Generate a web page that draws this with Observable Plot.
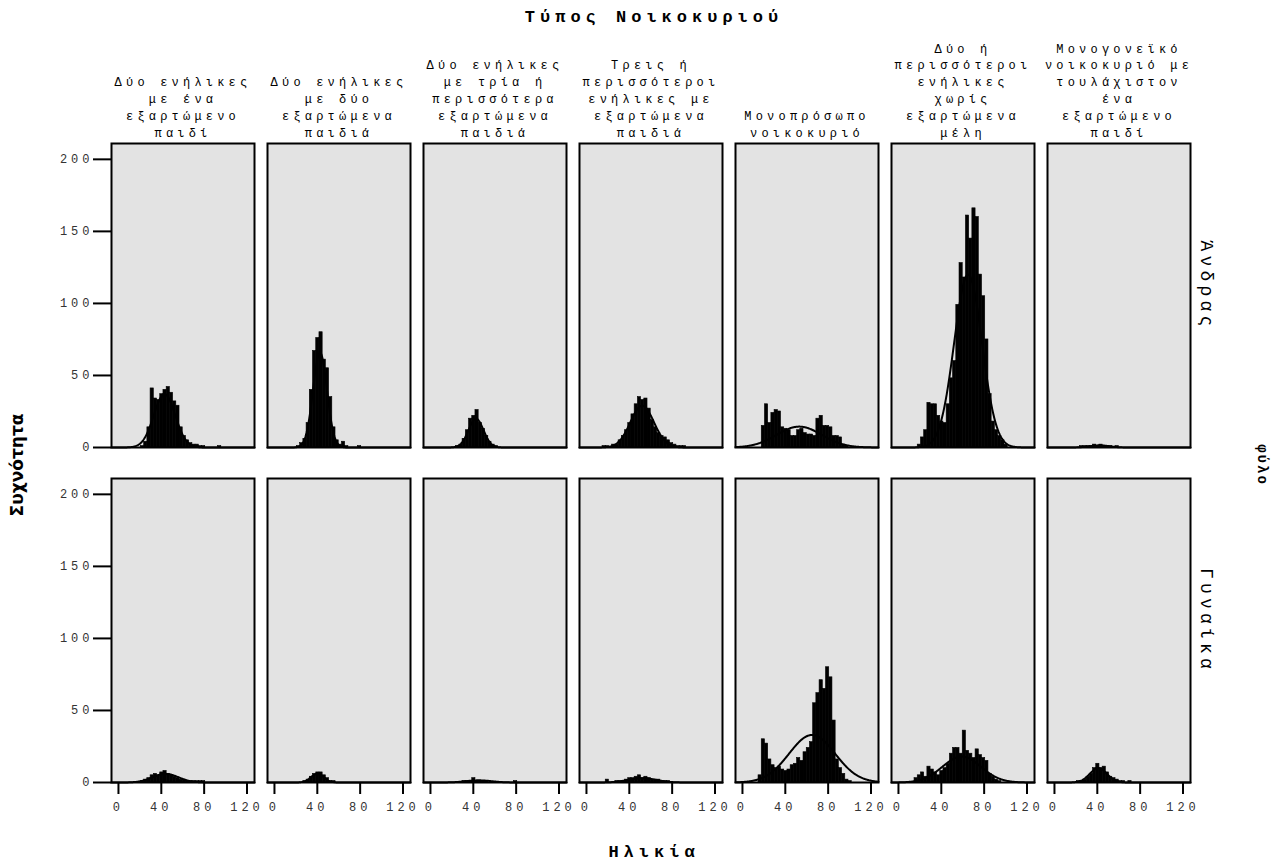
<!DOCTYPE html>
<html><head><meta charset="utf-8">
<script src="https://cdn.jsdelivr.net/npm/d3@7"></script>
<script src="https://cdn.jsdelivr.net/npm/@observablehq/plot@0.6"></script>
<style>
html,body{margin:0;padding:0;background:#fff;}
#chart svg{display:block;}
g[aria-label="text"] text{letter-spacing:4.2px;}
g[aria-label="x-axis tick label"] text{letter-spacing:4px;}
g[aria-label="y-axis tick label"] text{letter-spacing:4px;}
</style>
</head><body><div id="chart"></div>
<script>
// ---- categories ----
const households = [
  "Δύο ενήλικες με ένα εξαρτώμενο παιδί",
  "Δύο ενήλικες με δύο εξαρτώμενα παιδιά",
  "Δύο ενήλικες με τρία ή περισσότερα εξαρτώμενα παιδιά",
  "Τρεις ή περισσότεροι ενήλικες με εξαρτώμενα παιδιά",
  "Μονοπρόσωπο νοικοκυριό",
  "Δύο ή περισσότεροι ενήλικες χωρίς εξαρτώμενα μέλη",
  "Μονογονεϊκό νοικοκυριό με τουλάχιστον ένα εξαρτώμενο παιδί"
];
const householdLines = [
  ["Δύο ενήλικες","με ένα","εξαρτώμενο","παιδί"],
  ["Δύο ενήλικες","με δύο","εξαρτώμενα","παιδιά"],
  ["Δύο ενήλικες","με τρία ή","περισσότερα","εξαρτώμενα","παιδιά"],
  ["Τρεις ή","περισσότεροι","ενήλικες με","εξαρτώμενα","παιδιά"],
  ["Μονοπρόσωπο","νοικοκυριό"],
  ["Δύο ή","περισσότεροι","ενήλικες","χωρίς","εξαρτώμενα","μέλη"],
  ["Μονογονεϊκό","νοικοκυριό με","τουλάχιστον","ένα","εξαρτώμενο","παιδί"]
];
const sexes = ["Άνδρας", "Γυναίκα"];

// ---- histogram bins (age start of each bin, width in years) ----
const binStarts = [15,18,21,24,27,30,33,36,39,42,45,48,51,54,57,60,63,66,69,72,75,78,81,84,87,90,93,96,99];
const binWidth = 3;

// ---- counts per bin, men (one array per household type) ----
const maleCounts = [
  [0,0,1,4,14,41,34,33,37,40,42,38,32,29,14,8,5,3,2,2,1,1,0,0,0,0,1,0,0],
  [0,0,1,3,6,17,40,67,76,80,61,55,35,14,5,2,4,1,0,0,0,1,0,0,0,0,0,0,0],
  [0,0,0,1,2,6,12,20,22,26,17,13,8,4,2,1,0,0,0,0,0,0,0,0,0,0,0,0,0],
  [1,1,0,2,2,5,8,12,17,23,30,35,33,34,27,19,14,10,8,7,5,3,2,1,1,1,0,0,0],
  [0,15,30,17,24,26,25,14,13,12,8,8,12,13,10,9,9,8,20,22,15,15,14,8,8,7,2,1,0],
  [0,2,7,12,31,30,30,22,18,17,30,48,60,99,128,118,161,145,166,160,120,105,75,37,18,12,8,5,2],
  [0,0,0,1,1,1,1,2,1,2,1,1,1,0,1,0,0,0,0,0,0,0,0,0,0,0,0,0,0]
];
// ---- counts per bin, women ----
const femaleCounts = [
  [0,0,1,2,3,5,6,5,7,8,6,5,4,3,2,2,1,1,1,1,1,1,0,0,0,0,0,0,0],
  [0,0,0,0,1,2,4,6,7,7,5,3,1,1,0,0,0,0,0,0,0,0,0,0,0,0,0,0,0],
  [0,0,0,0,0,1,1,1,3,1,1,1,1,0,0,0,0,0,0,0,0,1,0,0,0,0,0,0,0],
  [0,2,0,0,1,1,1,2,3,3,4,5,3,4,3,2,2,2,1,1,1,0,0,0,0,0,0,0,0],
  [5,30,27,16,12,10,11,9,8,9,12,13,17,15,21,24,28,55,62,71,65,80,73,43,16,10,6,2,1],
  [3,5,7,4,11,9,7,5,8,10,13,20,24,24,20,36,22,20,17,23,19,17,15,6,4,2,1,0,0],
  [0,0,1,1,2,4,6,10,13,10,11,7,4,3,2,1,1,0,1,0,0,0,0,0,0,0,0,0,0]
];

// ---- fitted normal curves: mean, sd, peak height ----
const maleMean = [43, 42.5, 42.5, 52, 53, 65, 42];
const maleSD   = [10, 6.5, 7, 11, 21, 13, 9];
const malePeak = [37, 66, 20, 29, 14.5, 120, 1.5];
const femaleMean = [44, 40, 45, 52, 65, 59, 41];
const femaleSD   = [12, 6, 12, 13, 21.5, 18, 8];
const femalePeak = [6, 6, 1.5, 3, 33, 18, 10];

// ---- axis ticks ----
const xTicks = [0, 40, 80, 120];
const yTicks = [0, 50, 100, 150, 200];
const xDomain = [-6.5, 127];
const yDomain = [0, 211];

// ---- build tables ----
const bars = [];
const curves = [];
const curveAges = d3.range(xDomain[0], xDomain[1] + 0.01, 0.5);
sexes.forEach((sex, si) => {
  const counts = si === 0 ? maleCounts : femaleCounts;
  const means = si === 0 ? maleMean : femaleMean;
  const sds = si === 0 ? maleSD : femaleSD;
  const peaks = si === 0 ? malePeak : femalePeak;
  households.forEach((h, hi) => {
    counts[hi].forEach((c, bi) => {
      if (c > 0) bars.push({household: h, sex, x1: binStarts[bi], x2: binStarts[bi] + binWidth, count: c});
    });
    for (const a of curveAges) {
      const z = (a - means[hi]) / sds[hi];
      curves.push({household: h, sex, key: sex + h, age: a, value: peaks[hi] * Math.exp(-0.5 * z * z)});
    }
  });
});

const mono = "'Liberation Mono', 'Courier New', monospace";

const chart = Plot.plot({
  width: 1274, height: 866,
  marginLeft: 110, marginRight: 84, marginTop: 142, marginBottom: 83,
  style: {fontFamily: mono, fontSize: "12px", background: "#fff", color: "#000", overflow: "visible"},
  x: {domain: xDomain, axis: null},
  y: {domain: yDomain, axis: null},
  fx: {domain: households, paddingInner: 0.0845, paddingOuter: 0, axis: null, label: null},
  fy: {domain: sexes, paddingInner: 0.092, paddingOuter: 0, axis: null, label: null},
  marks: [
    Plot.frame({fill: "#e3e3e3"}),
    Plot.rectY(bars, {fx: "household", fy: "sex", x1: "x1", x2: "x2", y: "count", fill: "#000", stroke: "#000", strokeWidth: 0.6, inset: 0}),
    Plot.line(curves, {fx: "household", fy: "sex", x: "age", y: "value", z: "key", stroke: "#000", strokeWidth: 2}),
    Plot.frame({stroke: "#000", strokeWidth: 2}),
    Plot.axisX({ticks: xTicks, tickSize: 12, tickPadding: 8, strokeWidth: 2, label: null, fill: "#333", fontSize: 12}),
    Plot.axisY({ticks: yTicks, tickSize: 18, tickPadding: 0, strokeWidth: 2, label: null, fill: "#333", fontSize: 12}),
    Plot.text(households, {
      fx: d => d, fy: () => sexes[0],
      text: (d, i) => householdLines[i].join("\n"),
      frameAnchor: "top", lineAnchor: "bottom", dy: -7, lineHeight: 1.4,
      fontSize: 12, fill: "#000"
    }),
    Plot.text(sexes, {
      fy: d => d, fx: () => households[6],
      text: d => d, frameAnchor: "right", textAnchor: "middle", rotate: 90, dx: 16, dy: -10,
      fontSize: 18, fill: "#000"
    })
  ]
});

document.getElementById("chart").appendChild(chart);

// ---- overall titles ----
const svg = d3.select(chart);
svg.append("text").text("Τύπος Νοικοκυριού")
  .attr("x", 654).attr("y", 18).attr("text-anchor", "middle").attr("dominant-baseline", "middle")
  .attr("font-family", mono).attr("font-weight", "bold").attr("font-size", 17)
  .style("letter-spacing", "5px");
svg.append("text").text("Ηλικία")
  .attr("x", 654).attr("y", 853).attr("text-anchor", "middle").attr("dominant-baseline", "middle")
  .attr("font-family", mono).attr("font-weight", "bold").attr("font-size", 17)
  .style("letter-spacing", "5px");
svg.append("text").text("Συχνότητα")
  .attr("transform", "translate(18,465) rotate(-90)").attr("text-anchor", "middle").attr("dominant-baseline", "middle")
  .attr("font-family", "'DejaVu Sans', sans-serif").attr("font-weight", "bold").attr("font-size", 17);
svg.append("text").text("φύλο")
  .attr("transform", "translate(1262,465) rotate(90)").attr("text-anchor", "middle").attr("dominant-baseline", "middle")
  .attr("font-family", mono).attr("font-weight", "bold").attr("font-size", 14)
  .style("letter-spacing", "2px");
</script>
</body></html>
